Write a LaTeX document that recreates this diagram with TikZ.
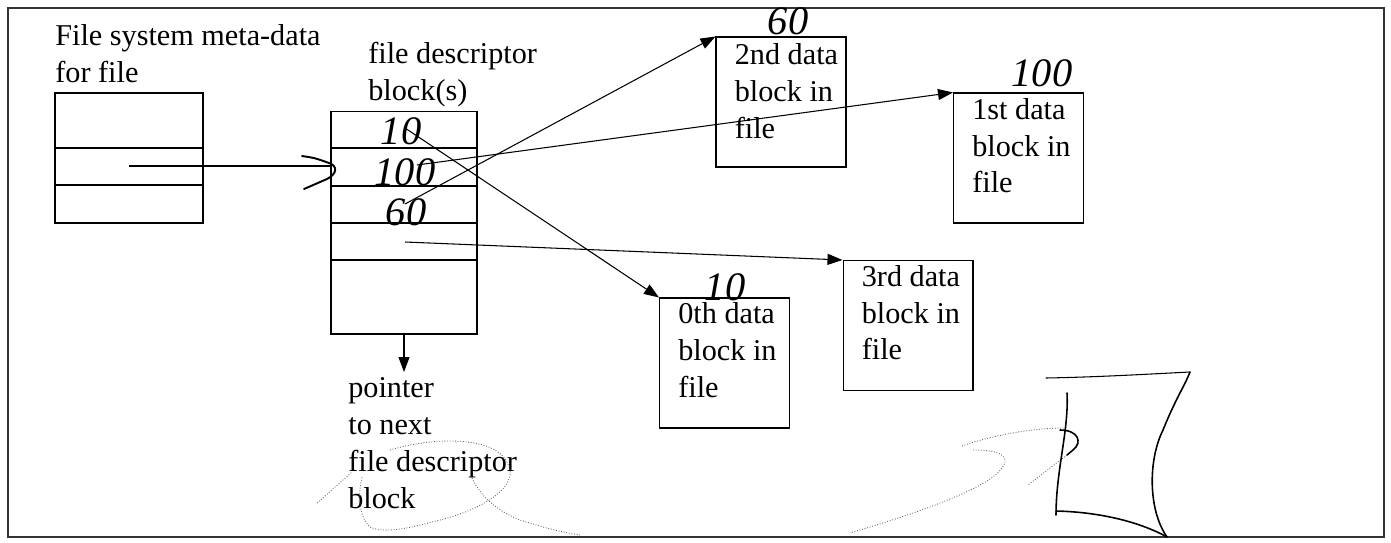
\documentclass[tikz,border=0pt]{standalone}
\usepackage{fontspec}
\setmainfont{Liberation Serif}
\usetikzlibrary{arrows.meta}
\begin{document}
\begin{tikzpicture}[x=0.02cm,y=-0.02cm,
  lbl/.style={font=\fontsize{17.2}{21}\selectfont, inner sep=0pt, align=left, anchor=base west},
  hand/.style={font=\fontsize{23}{23}\selectfont\itshape, inner sep=0pt},
  box/.style={draw, line width=0.6pt, inner sep=0pt, minimum width=2.6cm, minimum height=2.6cm},
  arr/.style={line width=0.6pt, -{Triangle[length=0.3cm,width=0.22cm]}},
  ln/.style={line width=0.6pt},
  scrib/.style={black!60, line width=0.5pt, densely dotted},
  ink/.style={line width=0.9pt, line cap=round}]
\useasboundingbox (0,0) rectangle (1391,542);
% outer frame
\draw[line width=0.6pt, black!80] (8,8) rectangle (1384,537);

% meta-data block
\node[box, minimum width=2.96cm] (meta) at (129,158) {};
\draw[ln] (meta.west |- 0,148) -- (meta.east |- 0,148);
\draw[ln] (meta.west |- 0,185) -- (meta.east |- 0,185);
\node[lbl] (metat) at (55,82) {File system meta-data\\for file};

% file descriptor block
\node[box, minimum width=2.92cm, minimum height=4.46cm] (desc) at (404,222.5) {};
\foreach \yy in {148,186,223,260}
  \draw[ln] (desc.west |- 0,\yy) -- (desc.east |- 0,\yy);
\node[lbl] (desct) at (368,100) {file descriptor\\block(s)};

% data blocks
\node[box] (blk2) at (781,102) {};
\node[box] (blk1) at (1018.5,158) {};
\node[box] (blk0) at (724.5,363) {};
\node[box] (blk3) at (908,325.5) {};
\node[lbl] (t2) at ([xshift=0.38cm,yshift=-2.04cm]blk2.north west) {2nd data\\block in\\file};
\node[lbl] (t1) at ([xshift=0.38cm,yshift=-2.01cm]blk1.north west) {1st data\\block in\\file};
\node[lbl] (t0) at ([xshift=0.38cm,yshift=-2.0cm]blk0.north west) {0th data\\block in\\file};
\node[lbl] (t3) at ([xshift=0.38cm,yshift=-2.0cm]blk3.north west) {3rd data\\block in\\file};

% pointer to next
\coordinate (nextend) at (404,372);
\draw[arr] (desc.south) -- (nextend);
\node[lbl] (nextt) at (348,508) {pointer\\to next\\file descriptor\\block};

% pointers from descriptor entries
\coordinate (s10) at (405,128);
\coordinate (s100) at (417,165);
\coordinate (s60) at (405,204);
\coordinate (s4) at (405,242);
\draw[arr] (s10) -- (blk0.north west);
\draw[arr] (s100) -- (blk1.north west);
\draw[arr] (s60) -- (blk2.north west);
\draw[arr] (s4) -- (blk3.north west);

% meta-data pointer with hand-drawn head
\coordinate (ms) at (129,166);
\coordinate (me) at (331,166);
\draw[ln] (ms) -- (me);
\draw[ink, line width=1.1pt] (302,156) .. controls (315,158) .. (329,163)
   .. controls (338,166) and (337,174) .. (327,179) -- (304,189);

% handwritten numbers
\node[hand] (h10) at (401,131) {10};
\node[hand] (h100) at (405,172) {100};
\node[hand] (h60) at (406,212) {60};
\node[hand] (g60) at (788,21) {60};
\node[hand] (g100) at (1042,73) {100};
\node[hand] (g10) at (725,287) {10};

% scribbles: loop around "file descriptor block"
\draw[scrib] (317,503) -- (352,472);
\draw[scrib] (390,450) .. controls (410,444) and (430,441) .. (450,441)
   .. controls (480,441) and (505,448) .. (510,470)
   .. controls (513,490) and (480,510) .. (440,520)
   .. controls (410,528) and (385,534) .. (370,527)
   .. controls (358,515) and (358,495) .. (362,477);
\draw[scrib] (472,478) .. controls (480,495) and (495,510) .. (520,520)
   .. controls (545,528) and (565,533) .. (580,535);

% scribbles: bottom right
\draw[scrib] (962,446) .. controls (990,436) and (1030,428) .. (1065,428);
\draw[scrib] (973,450) .. controls (990,450) and (1006,452) .. (1005,462)
   .. controls (1000,480) and (960,495) .. (930,507)
   .. controls (900,518) and (870,527) .. (850,533);
\draw[ink] (1060,430) .. controls (1078,430) and (1083,442) .. (1073,450) -- (1067,455);
\draw[scrib] (1067,455) -- (1028,485);
\draw[ink] (1067,393) .. controls (1069,430) and (1056,470) .. (1056,515);
\draw[ink] (1056,511) .. controls (1100,512) and (1140,522) .. (1167,537);
\draw[ink] (1167,537) .. controls (1148,510) and (1148,460) .. (1163,430)
   .. controls (1175,400) and (1185,385) .. (1190,372);
\draw[ink, line width=0.6pt] (1046,378) .. controls (1100,377) and (1150,374) .. (1190,372);
\end{tikzpicture}
\end{document}
